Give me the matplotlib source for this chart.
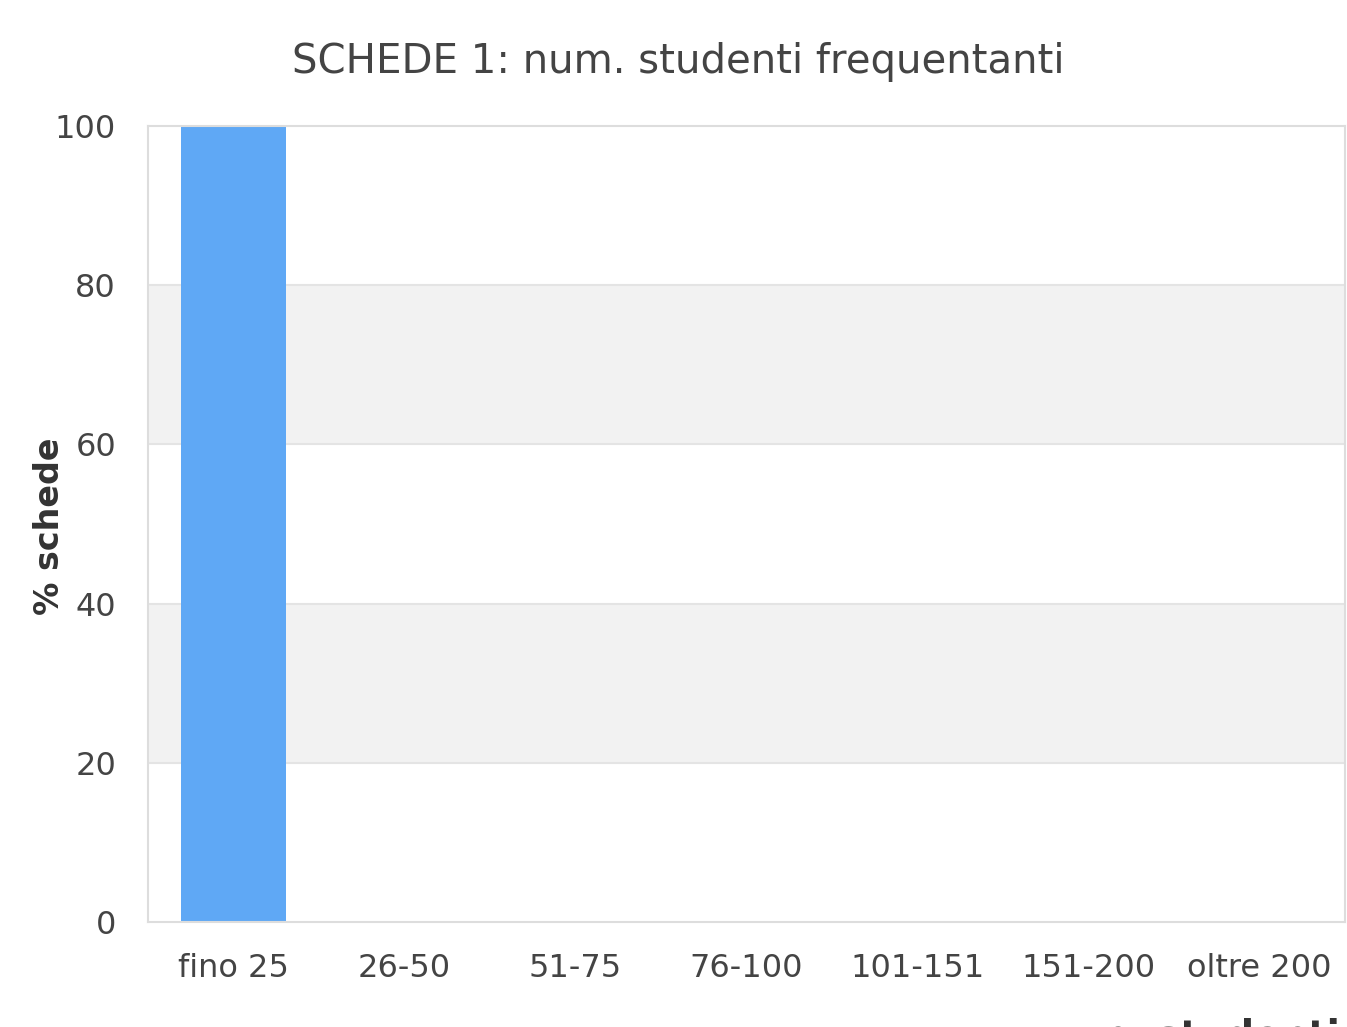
import matplotlib
matplotlib.use("Agg")
import matplotlib.pyplot as plt

categories = ["fino 25", "26-50", "51-75", "76-100", "101-151", "151-200", "oltre 200"]
values = [100, 0, 0, 0, 0, 0, 0]
yticks = [0, 20, 40, 60, 80, 100]

plt.rcParams['font.family'] = ['DejaVu Sans']
fig = plt.figure(figsize=(13.47, 10.27), dpi=100)
ax = fig.add_axes([148/1347, 1 - 922/1027, (1345-148)/1347, (922-126)/1027])

txt = "#444444"
# alternating bands
for i in range(len(yticks) - 1):
    if i % 2 == 1:
        ax.axhspan(yticks[i], yticks[i+1], color="#f2f2f2", zorder=0, lw=0)
for y in yticks[1:-1]:
    ax.axhline(y, color="#e4e4e4", lw=1.5, zorder=1)

x = list(range(len(categories)))
ax.bar(x, values, width=0.61, color="#5fa8f5", zorder=2, align="center")
ax.set_xlim(-0.5, len(categories) - 0.5)
ax.set_ylim(0, 100)
ax.set_xticks(x)
ax.set_xticklabels(categories)
ax.set_yticks(yticks)
ax.tick_params(axis="both", length=0, labelsize=23, colors=txt)
ax.tick_params(axis="x", pad=22)
ax.tick_params(axis="y", pad=23)
for s in ax.spines.values():
    s.set_color("#dddddd")
    s.set_linewidth(1.5)

fig.text(678/1347, 1 - 62/1027, "SCHEDE 1: num. studenti frequentanti", fontsize=29,
         color=txt, ha="center", va="center")
fig.text(50/1347, 1 - 526/1027, "% schede", rotation=90, fontsize=24, fontweight="bold",
         color="#333333", ha="center", va="center")
fig.text(1340/1347, 1 - 1047/1027, "n. studenti", fontsize=28, fontweight="bold",
         color="#333333", ha="right", va="baseline")

fig.savefig("out.png", dpi=100)
